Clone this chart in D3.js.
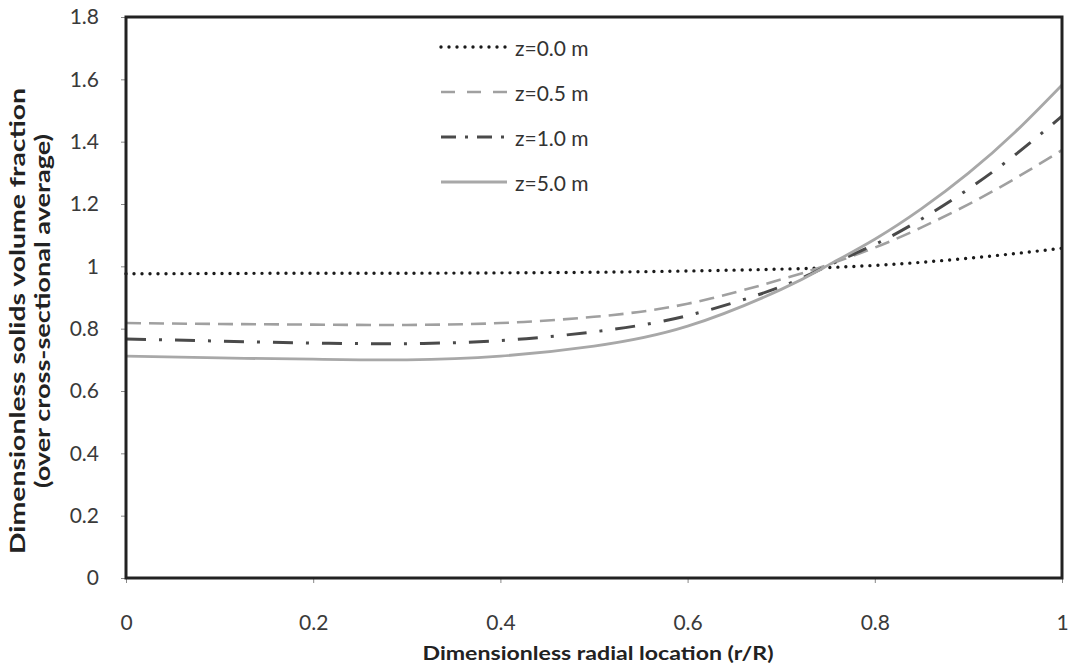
<!DOCTYPE html>
<html>
<head>
<meta charset="utf-8">
<style>
  body { margin: 0; background: #fff; }
  text { font-family: Lato, "Open Sans", sans-serif; }
  .tick text { fill: #3a3a3a; font-size: 21px; }
</style>
</head>
<body>
<svg width="1071" height="669"></svg>
<script src="https://cdnjs.cloudflare.com/ajax/libs/d3/7.8.5/d3.min.js"></script>
<script>
// radial positions and the four profiles
var rVals = [0, 0.1, 0.2, 0.3, 0.4, 0.5, 0.6, 0.7, 0.75, 0.8, 0.85, 0.9, 0.95, 1.0];
var z00 = [0.976, 0.977, 0.978, 0.978, 0.979, 0.981, 0.985, 0.991, 0.996, 1.003, 1.013, 1.026, 1.041, 1.058];
var z05 = [0.818, 0.815, 0.813, 0.812, 0.818, 0.838, 0.880, 0.958, 1.005, 1.060, 1.125, 1.199, 1.282, 1.373];
var z10 = [0.767, 0.760, 0.754, 0.752, 0.762, 0.790, 0.842, 0.935, 1.002, 1.070, 1.152, 1.248, 1.358, 1.482];
var z50 = [0.712, 0.706, 0.702, 0.700, 0.712, 0.744, 0.808, 0.926, 1.003, 1.087, 1.185, 1.299, 1.431, 1.582];
var seriesNames = ["z=0.0 m", "z=0.5 m", "z=1.0 m", "z=5.0 m"];
var xTicks = [0, 0.2, 0.4, 0.6, 0.8, 1];
var yTicks = [0, 0.2, 0.4, 0.6, 0.8, 1, 1.2, 1.4, 1.6, 1.8];

var svg = d3.select("svg");
var plotLeft = 126, plotRight = 1062, plotTop = 17, plotBottom = 578;

var x = d3.scaleLinear().domain([0, 1]).range([plotLeft, plotRight]);
var y = d3.scaleLinear().domain([0, 1.8]).range([plotBottom, plotTop]);

var styles = [
  {color: "#1a1a1a", width: 3.4, dash: "0,8", cap: "round"},
  {color: "#a0a0a0", width: 2.6, dash: "15,8", cap: "butt"},
  {color: "#4a4a4a", width: 3, dash: "20,13,3,13", cap: "butt"},
  {color: "#a8a8a8", width: 2.8, dash: null, cap: "butt"}
];
var legendDash = ["0,8", "14,12", "15,9,3,9", null];
var allSeries = [z00, z05, z10, z50];

// axes
var yAxis = svg.append("g")
    .attr("transform", "translate(" + plotLeft + ",0)")
    .call(d3.axisLeft(y).tickValues(yTicks).tickSize(5).tickPadding(22)
      .tickFormat(function(d) { return d3.format("")(+d.toFixed(1)); }));
yAxis.select(".domain").remove();
yAxis.selectAll(".tick line").attr("stroke", "#888");

var xAxis = svg.append("g")
    .attr("transform", "translate(0," + plotBottom + ")")
    .call(d3.axisBottom(x).tickValues(xTicks).tickSize(5).tickPadding(32)
      .tickFormat(function(d) { return d3.format("")(+d.toFixed(1)); }));
xAxis.select(".domain").remove();
xAxis.selectAll(".tick line").attr("stroke", "#888");

// curves
var line = d3.line()
    .x(function(d) { return x(d[0]); })
    .y(function(d) { return y(d[1]); })
    .curve(d3.curveNatural);

allSeries.forEach(function(vals, i) {
  var pts = rVals.map(function(r, k) { return [r, vals[k]]; });
  var s = styles[i];
  svg.append("path")
      .datum(pts)
      .attr("d", line)
      .attr("fill", "none")
      .attr("stroke", s.color)
      .attr("stroke-width", s.width)
      .attr("stroke-linecap", s.cap)
      .attr("stroke-dasharray", s.dash);
});

// plot frame
svg.append("rect")
    .attr("x", plotLeft).attr("y", plotTop)
    .attr("width", plotRight - plotLeft).attr("height", plotBottom - plotTop)
    .attr("fill", "none")
    .attr("stroke", "#222")
    .attr("stroke-width", 3);

// legend
var legend = svg.append("g");
seriesNames.forEach(function(name, i) {
  var yy = 47 + i * 45;
  var s = styles[i];
  legend.append("line")
      .attr("x1", 441).attr("x2", 507)
      .attr("y1", yy).attr("y2", yy)
      .attr("stroke", s.color)
      .attr("stroke-width", s.width)
      .attr("stroke-linecap", s.cap)
      .attr("stroke-dasharray", legendDash[i]);
  legend.append("text")
      .attr("x", 515).attr("y", yy + 9)
      .attr("font-size", 21)
      .attr("fill", "#333")
      .text(name);
});

// axis titles
svg.append("text")
    .attr("x", (plotLeft + plotRight) / 2 + 4).attr("y", 660)
    .attr("text-anchor", "middle")
    .attr("font-size", 19).attr("font-weight", "bold")
    .attr("fill", "#222")
    .attr("textLength", 351).attr("lengthAdjust", "spacingAndGlyphs")
    .text("Dimensionless radial location (r/R)");

svg.append("text")
    .attr("transform", "translate(25,321) rotate(-90)")
    .attr("text-anchor", "middle")
    .attr("font-size", 21).attr("font-weight", "bold")
    .attr("fill", "#222")
    .attr("textLength", 466).attr("lengthAdjust", "spacingAndGlyphs")
    .text("Dimensionless solids volume fraction");

svg.append("text")
    .attr("transform", "translate(50,311) rotate(-90)")
    .attr("text-anchor", "middle")
    .attr("font-size", 21).attr("font-weight", "bold")
    .attr("fill", "#222")
    .attr("textLength", 354).attr("lengthAdjust", "spacingAndGlyphs")
    .text("(over cross-sectional  average)");
</script>
</body>
</html>
